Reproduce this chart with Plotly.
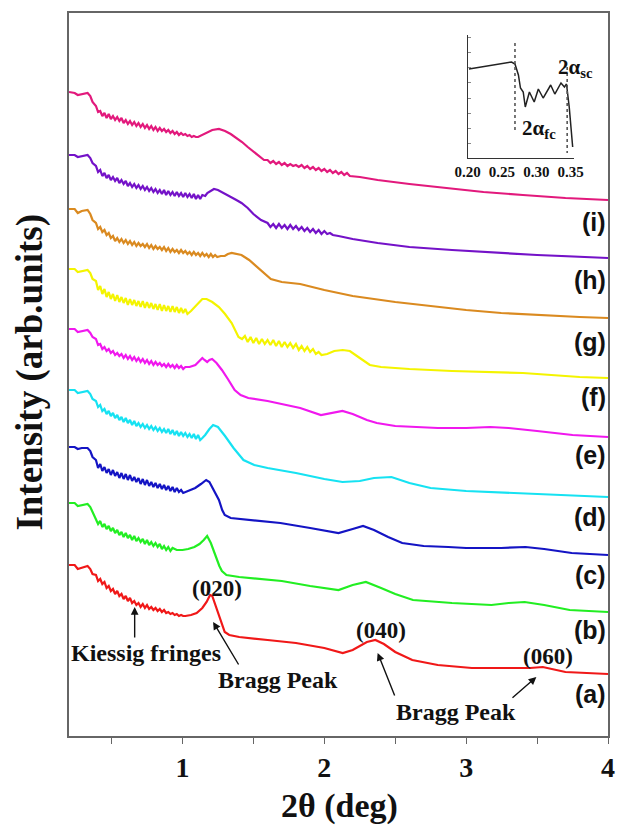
import plotly.graph_objects as go

# ---------------- data (y = arbitrary intensity units, stacked) -------------
HEAD_X = [0.20, 0.24, 0.262, 0.29, 0.331, 0.35, 0.366]
FRINGE_X = [0.390, 0.405, 0.420, 0.435, 0.450, 0.465, 0.480, 0.495, 0.510, 0.525,
            0.540, 0.555, 0.570, 0.585, 0.600, 0.615, 0.630, 0.645, 0.660, 0.675,
            0.690, 0.705, 0.720, 0.735, 0.750, 0.765, 0.780, 0.795, 0.810, 0.825,
            0.840, 0.855, 0.870, 0.885, 0.900, 0.915, 0.930, 0.945, 0.960, 0.975,
            0.990, 1.005, 1.020, 1.035, 1.050, 1.065, 1.080, 1.095, 1.110, 1.125,
            1.140, 1.155, 1.170, 1.185, 1.200, 1.215, 1.230, 1.245]

# (a) red
A_HEAD = [171, 171, 167, 168, 170, 167, 162]
A_FRINGE = [161, 155, 157, 152, 154, 148, 150, 145, 147, 142, 145, 140, 142, 137, 140, 135, 138, 133,
            135, 131, 133, 129, 132, 128, 131, 127, 129, 126, 128, 125, 127, 124, 126, 123, 124, 122,
            123, 121, 122, 120, 121, 120, 120]
A_TAIL_X = [1.06, 1.10, 1.14, 1.17, 1.195, 1.21, 1.24, 1.27, 1.298, 1.33, 1.40, 1.6, 1.8, 2.0, 2.13,
            2.2, 2.3, 2.36, 2.42, 2.5, 2.62, 2.8, 3.04, 3.3, 3.45, 3.54, 3.6, 3.7, 3.85, 4.0]
A_TAIL_Y = [121, 123, 128, 134, 141, 140, 128, 114, 104, 101, 99, 96, 93, 88, 83, 86, 94, 96, 92, 84,
            76, 71, 68, 68, 68, 69, 67, 64, 63, 62]

# (b) green
B_HEAD = [233, 233, 230, 231, 232, 229, 224]
B_FRINGE = [218, 212, 215, 209, 212, 207, 210, 205, 208, 203, 206, 201, 204, 199, 203, 198, 201, 196,
            200, 195, 198, 194, 197, 192, 196, 191, 194, 190, 193, 189, 192, 187, 190, 186, 189, 185, 188]
B_TAIL_X = [0.96, 1.0, 1.04, 1.084, 1.12, 1.15, 1.174, 1.20, 1.23, 1.26, 1.278, 1.31, 1.4, 1.55, 1.7,
            1.9, 2.1, 2.2, 2.293, 2.4, 2.5, 2.625, 2.9, 3.178, 3.3, 3.412, 3.55, 3.73, 4.0]
B_TAIL_Y = [186, 186, 187, 189, 192, 196, 200, 193, 181, 170, 165, 161, 159, 157, 155, 150, 146, 151,
            154, 148, 142, 136, 133, 131, 133, 134, 131, 126, 124]

# (c) blue
C_HEAD = [289, 289, 287, 288, 288, 285, 279]
C_FRINGE = [276, 268, 272, 265, 269, 263, 267, 261, 266, 260, 264, 258, 263, 257, 262, 256, 261, 255,
            259, 254, 258, 252, 257, 251, 256, 250, 254, 249, 253, 248, 252, 247, 251, 246, 250, 245,
            249, 244, 248, 244, 246, 243]
C_TAIL_X = [1.04, 1.09, 1.13, 1.167, 1.19, 1.22, 1.257, 1.28, 1.298, 1.34, 1.5, 1.69, 1.9, 2.1, 2.2,
            2.273, 2.35, 2.45, 2.549, 2.7, 2.874, 3.0, 3.247, 3.35, 3.419, 3.55, 3.744, 4.0]
C_TAIL_Y = [245, 248, 252, 256, 254, 246, 236, 226, 221, 218, 216, 213, 208, 203, 207, 210, 206, 199,
            193, 190, 189, 188, 188, 189, 189, 187, 183, 181]

# (d) cyan
D_HEAD = [346, 346, 343, 344, 345, 342, 337]
D_FRINGE = [335, 329, 331, 325, 327, 322, 325, 320, 323, 318, 321, 316, 319, 314, 318, 313, 316, 311,
            315, 310, 313, 309, 312, 308, 311, 307, 310, 306, 309, 305, 308, 304, 307, 303, 307, 302,
            306, 301, 305, 300, 304, 300, 303, 299, 302, 298, 302, 297, 301, 296, 298]
D_TAIL_X = [1.16, 1.19, 1.216, 1.25, 1.30, 1.36, 1.43, 1.506, 1.6, 1.8, 2.0, 2.128, 2.25, 2.35, 2.473,
            2.6, 2.749, 3.0, 3.3, 3.6, 4.0]
D_TAIL_Y = [301, 307, 311, 309, 300, 288, 276, 271, 268, 263, 257, 254, 255, 258, 259, 253, 248, 245,
            243, 241, 239]

# (e) magenta
E_HEAD = [407, 407, 404, 405, 406, 403, 399]
E_FRINGE = [397, 391, 392, 387, 389, 385, 387, 383, 385, 381, 383, 380, 382, 378, 381, 377, 380, 376,
            379, 375, 378, 374, 377, 373, 376, 372, 375, 371, 374, 371, 373, 370, 372, 369, 372, 369,
            371, 368, 371, 368, 370, 367, 369]
E_TAIL_X = [1.05, 1.091, 1.12, 1.14, 1.155, 1.174, 1.19, 1.209, 1.24, 1.278, 1.32, 1.368, 1.41, 1.464,
            1.6, 1.83, 1.976, 2.05, 2.128, 2.2, 2.3, 2.37, 2.5, 2.8, 3.0, 3.17, 3.3, 3.5, 3.75, 4.0]
E_TAIL_Y = [369, 371, 375, 378, 376, 374, 376, 377, 373, 366, 357, 346, 341, 338, 335, 328, 321, 323,
            325, 322, 316, 313, 310, 308, 308, 309, 308, 305, 301, 299]

# (f) yellow
F_HEAD = [467, 467, 464, 465, 466, 463, 457]
F_FRINGE = [455, 446, 450, 442, 447, 439, 444, 437, 442, 435, 441, 434, 439, 433, 438, 431, 437, 431,
            436, 430, 435, 429, 435, 428, 434, 428, 433, 427, 432, 426, 432, 425, 431, 425, 430, 424,
            430, 424, 429, 423, 428, 423, 427, 422]
F_TAIL_X = [1.06, 1.09, 1.12, 1.14, 1.17, 1.21, 1.257, 1.30, 1.347, 1.395, 1.42,
            1.44, 1.46, 1.48, 1.50, 1.52, 1.54, 1.56, 1.58, 1.60, 1.62, 1.64, 1.66, 1.68, 1.70,
            1.72, 1.74, 1.76, 1.78, 1.80, 1.82, 1.84, 1.86, 1.88, 1.90, 1.92, 1.94, 1.96, 1.98,
            2.02, 2.07, 2.13, 2.18, 2.25, 2.321, 2.4, 2.6, 2.9, 3.171, 3.4, 3.6, 3.8, 4.0]
F_TAIL_Y = [425, 429, 434, 437, 437, 434, 429, 422, 413, 399, 397,
            400, 394, 399, 393, 398, 392, 397, 392, 396, 391, 396, 390, 395, 389,
            394, 389, 393, 388, 392, 386, 390, 385, 389, 384, 387, 382, 384, 381,
            382, 385, 386, 385, 378, 371, 369, 367, 365, 364, 363, 361, 359, 358]

# (g) orange
G_HEAD = [527, 527, 523, 525, 526, 522, 516]
G_FRINGE = [513, 507, 509, 504, 506, 501, 503, 498, 500, 495, 498, 494, 497, 493, 496, 492, 495, 491,
            494, 490, 493, 490, 492, 489, 492, 488, 491, 487, 490, 487, 489, 486, 489, 485, 488, 484,
            487, 484, 486, 483, 486, 483, 485, 482, 484, 481, 484, 481, 483, 480, 483, 480, 482, 479,
            482, 479, 481, 479]
G_TAIL_X = [1.27, 1.298, 1.32, 1.347, 1.38, 1.416, 1.47, 1.52, 1.554, 1.59, 1.623, 1.7, 1.83, 2.0,
            2.2, 2.5, 2.8, 3.0, 3.247, 3.5, 3.8, 4.0]
G_TAIL_Y = [480, 480, 482, 483, 482, 481, 476, 470, 466, 461, 457, 454, 452, 446, 440, 434, 429, 426,
            423, 421, 419, 418]

# (h) purple
H_HEAD = [581, 581, 579, 580, 581, 578, 573]
H_FRINGE = [570, 564, 566, 560, 563, 558, 561, 556, 559, 555, 558, 553, 556, 552, 555, 550, 553, 549,
            552, 548, 551, 547, 550, 546, 549, 545, 548, 544, 547, 543, 546, 542, 546, 541, 545, 541,
            544, 540, 544, 540, 543, 539, 543, 539, 542, 538, 542, 537, 541, 537, 541]
H_TAIL_X = [1.16, 1.175, 1.188, 1.205, 1.222, 1.25, 1.278, 1.33, 1.38, 1.416, 1.46, 1.50, 1.554,
            1.60, 1.62, 1.64, 1.66, 1.68, 1.70, 1.72, 1.74, 1.76, 1.78, 1.80, 1.82, 1.84, 1.86,
            1.88, 1.90, 1.92, 1.94, 1.96, 1.98, 2.00, 2.02,
            2.04, 2.06, 2.10, 2.2, 2.376, 2.6, 2.9, 3.12, 3.5, 4.0]
H_TAIL_Y = [540, 543, 544, 546, 547, 546, 544, 540, 536, 533, 528, 522, 516,
            513, 509, 512, 508, 512, 508, 511, 507, 511, 507, 510, 506, 509, 505,
            508, 504, 507, 503, 506, 502, 505, 502,
            503, 501, 500, 497, 493, 489, 486, 484, 481, 478]

# (i) pink
I_HEAD = [644, 643, 641, 642, 643, 640, 634]
I_FRINGE = [630, 624, 625, 620, 623, 618, 622, 617, 620, 616, 619, 615, 618, 613, 616, 612, 615, 611,
            614, 610, 613, 609, 612, 608, 611, 607, 610, 606, 609, 605, 608, 605, 607, 604, 606, 603,
            605, 602, 604, 601, 603, 601, 602, 600, 601, 599, 600, 599, 599]
I_TAIL_X = [1.14, 1.17, 1.21, 1.257, 1.30, 1.34, 1.37, 1.42, 1.46, 1.52, 1.575,
            1.60, 1.62, 1.64, 1.66, 1.68, 1.70, 1.72, 1.74, 1.76, 1.78, 1.80, 1.82, 1.84, 1.86, 1.88,
            1.90, 1.92, 1.94, 1.96, 1.98, 2.00, 2.02, 2.04, 2.06, 2.08, 2.10, 2.12, 2.14, 2.16, 2.18,
            2.25, 2.376, 2.6, 2.9, 3.122, 3.4, 3.7, 4.0]
I_TAIL_Y = [601, 603, 606, 607, 605, 602, 599, 594, 589, 582, 576,
            576, 573, 575, 572, 574, 571, 573, 570, 572, 570, 571, 569, 571, 568, 570,
            567, 569, 566, 568, 565, 567, 564, 566, 563, 565, 562, 564, 561, 563, 560,
            559, 556, 552, 547, 544, 541, 538, 536]

CURVE_LABELS = ["(a)", "(b)", "(c)", "(d)", "(e)", "(f)", "(g)", "(h)", "(i)"]
LABEL_Y = [42, 106, 161, 219, 281, 339, 394, 456, 514]
COLORS = ["#F01818", "#22EE22", "#1414C4", "#16E2F2", "#F018EE", "#F4F400", "#DA8A20", "#7412C8", "#E2197C"]

# inset
INSET_X = [0.202, 0.22, 0.236, 0.255, 0.264, 0.269, 0.274, 0.277, 0.281, 0.284, 0.290, 0.297, 0.303,
           0.310, 0.321, 0.327, 0.336, 0.341, 0.344, 0.348, 0.353]
INSET_Y = [89, 91, 93, 95, 96, 94, 83, 70, 66, 51, 66, 56, 69, 60, 73, 64, 75, 71, 74, 51, 11]
INSET_TICKS = [0.20, 0.25, 0.30, 0.35]
INSET_TICKTEXT = ["0.20", "0.25", "0.30", "0.35"]
CRIT_X = [0.269, 0.345]
CRIT_Y = [(115, 25), (91, 5)]

XTICKS = [1, 2, 3, 4]
XMINOR = [0.5, 1.5, 2.5, 3.5]

# ---------------- figure -------------
SERIF = "Liberation Serif, Times New Roman, serif"
SANS = "Liberation Sans, Arial, sans-serif"

curves = [
    (A_HEAD, A_FRINGE, A_TAIL_X, A_TAIL_Y),
    (B_HEAD, B_FRINGE, B_TAIL_X, B_TAIL_Y),
    (C_HEAD, C_FRINGE, C_TAIL_X, C_TAIL_Y),
    (D_HEAD, D_FRINGE, D_TAIL_X, D_TAIL_Y),
    (E_HEAD, E_FRINGE, E_TAIL_X, E_TAIL_Y),
    (F_HEAD, F_FRINGE, F_TAIL_X, F_TAIL_Y),
    (G_HEAD, G_FRINGE, G_TAIL_X, G_TAIL_Y),
    (H_HEAD, H_FRINGE, H_TAIL_X, H_TAIL_Y),
    (I_HEAD, I_FRINGE, I_TAIL_X, I_TAIL_Y),
]

fig = go.Figure()
for (head, fr, tx, ty), col in zip(curves, COLORS):
    xs = HEAD_X + FRINGE_X[:len(fr)] + tx
    ys = head + fr + ty
    fig.add_trace(go.Scatter(x=xs, y=ys, mode="lines", line=dict(color=col, width=2.2),
                             showlegend=False, hoverinfo="skip"))

# inset traces
fig.add_trace(go.Scatter(x=INSET_X, y=INSET_Y, mode="lines", line=dict(color="#222", width=1.5),
                         xaxis="x2", yaxis="y2", showlegend=False, hoverinfo="skip"))
for cx, (y0, y1) in zip(CRIT_X, CRIT_Y):
    fig.add_trace(go.Scatter(x=[cx, cx], y=[y0, y1], mode="lines",
                             line=dict(color="#555", width=1.6, dash="dot"),
                             xaxis="x2", yaxis="y2", showlegend=False, hoverinfo="skip"))

ann = []
for lab, ly in zip(CURVE_LABELS, LABEL_Y):
    ann.append(dict(x=3.998, y=ly, xref="x", yref="y", text="<b>%s</b>" % lab, showarrow=False,
                    xanchor="right", yanchor="middle", font=dict(family=SANS, size=25, color="#111")))

texts = [("(020)", 1.243, 148, 23), ("(040)", 2.397, 106, 23), ("(060)", 3.578, 80, 23),
         ("Kiessig fringes", 0.746, 83, 24), ("Bragg Peak", 1.672, 56, 24), ("Bragg Peak", 2.929, 24, 24)]
for t, tx_, ty_, fs in texts:
    ann.append(dict(x=tx_, y=ty_, xref="x", yref="y", text="<b>%s</b>" % t, showarrow=False,
                    xanchor="center", yanchor="middle", font=dict(family=SERIF, size=fs, color="#111")))

arrows = [((0.663, 129), (0.663, 97)), ((1.216, 114), (1.402, 70)),
          ((2.376, 83), (2.5, 39)), ((3.495, 59), (3.316, 37))]
for (hx, hy), (tx_, ty_) in arrows:
    ann.append(dict(x=hx, y=hy, ax=tx_, ay=ty_, xref="x", yref="y", axref="x", ayref="y", text="",
                    showarrow=True, arrowhead=2, arrowsize=1.1, arrowwidth=1.4, arrowcolor="#111"))

# inset labels
ann.append(dict(x=0.903, y=0.944, xref="paper", yref="paper", text="<b>2α<sub>sc</sub></b>",
                showarrow=False, xanchor="left", yanchor="top",
                font=dict(family=SERIF, size=21, color="#111")))
ann.append(dict(x=0.836, y=0.860, xref="paper", yref="paper", text="<b>2α<sub>fc</sub></b>",
                showarrow=False, xanchor="left", yanchor="top",
                font=dict(family=SERIF, size=21, color="#111")))

# axis titles
ann.append(dict(x=0.501, y=-0.097, xref="paper", yref="paper", text="<b>2θ (deg)</b>", showarrow=False,
                xanchor="center", yanchor="middle", font=dict(family=SERIF, size=34, color="#111")))
ann.append(dict(x=-0.073, y=0.5035, xref="paper", yref="paper", text="<b>Intensity (arb.units)</b>",
                showarrow=False, textangle=-90, xanchor="center", yanchor="middle",
                font=dict(family=SERIF, size=37, color="#111")))

fig.update_layout(
    width=625, height=827, autosize=False,
    margin=dict(l=69, r=7, t=13, b=91),
    paper_bgcolor="white", plot_bgcolor="white",
    annotations=ann,
    xaxis=dict(domain=[0, 1], range=[0.2, 4.0], showline=True, mirror=True, linecolor="#666",
               linewidth=1.6, showgrid=False, zeroline=False, ticks="outside", ticklen=6,
               tickwidth=1.4, tickcolor="#666", tickvals=XTICKS, ticktext=[str(v) for v in XTICKS],
               tickfont=dict(family=SERIF, size=28, color="#111", weight="bold"),
               ticklabelstandoff=0,
               minor=dict(tickvals=XMINOR, ticks="outside", ticklen=6, tickwidth=1.4, tickcolor="#666")),
    yaxis=dict(domain=[0, 1], range=[0, 723], showline=True, mirror=True, linecolor="#666",
               linewidth=1.6, showgrid=False, zeroline=False, ticks="", showticklabels=False),
    xaxis2=dict(domain=[0.7395, 0.937], anchor="y2", range=[0.2, 0.355], showline=True, mirror=False,
                linecolor="#333", linewidth=1.2, showgrid=False, zeroline=False, ticks="",
                tickvals=INSET_TICKS, ticktext=INSET_TICKTEXT,
                tickfont=dict(family=SERIF, size=15, color="#111", weight="bold")),
    yaxis2=dict(domain=[0.7994, 0.9696], anchor="x2", range=[0, 123], showline=True, mirror=False,
                linecolor="#333", linewidth=1.2, showgrid=False, zeroline=False, ticks="inside",
                ticklen=3, tickcolor="#888", dtick=15, showticklabels=False),
)

fig.write_html("out.html", config={"responsive": False})
